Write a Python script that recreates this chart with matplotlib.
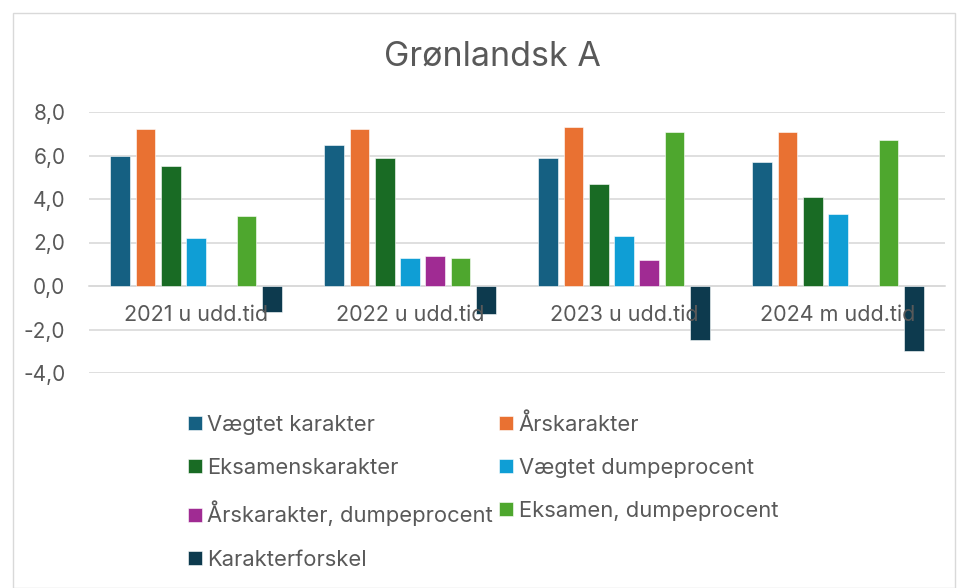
import numpy as np
import matplotlib.pyplot as plt
from matplotlib.patches import Rectangle

plt.rcParams['font.family'] = ['Inter', 'DejaVu Sans']

kategorier = ["2021 u udd.tid", "2022 u udd.tid", "2023 u udd.tid", "2024 m udd.tid"]
serier = ["Vægtet karakter", "Årskarakter", "Eksamenskarakter", "Vægtet dumpeprocent",
          "Årskarakter, dumpeprocent", "Eksamen, dumpeprocent", "Karakterforskel"]
vaegtet_karakter = [6.0, 6.5, 5.9, 5.7]
aarskarakter = [7.2, 7.2, 7.3, 7.1]
eksamenskarakter = [5.5, 5.9, 4.7, 4.1]
vaegtet_dump = [2.2, 1.3, 2.3, 3.3]
aars_dump = [np.nan, 1.4, 1.2, np.nan]
eksamen_dump = [3.2, 1.3, 7.1, 6.7]
karakterforskel = [-1.2, -1.3, -2.5, -3.0]

vaerdier = [vaegtet_karakter, aarskarakter, eksamenskarakter, vaegtet_dump,
            aars_dump, eksamen_dump, karakterforskel]
farver = ["#156082", "#E97132", "#196B24", "#0F9ED5", "#A02B93", "#4EA72E", "#0D3A4E"]

tekst = "#595959"
grid = "#D9D9D9"

fig = plt.figure(figsize=(9.61, 5.88), dpi=100)
fig.patches.append(Rectangle((13/961, 0), 942/961, 1-13/588, transform=fig.transFigure,
                             fill=False, edgecolor=grid, linewidth=1))
ax = fig.add_axes([89/961, 1-373/588, (945-89)/961, (373-112)/588])

x = np.arange(len(kategorier))
trin = 25.3/214
bredde = 19.7/214
for i, (navn, v, f) in enumerate(zip(serier, vaerdier, farver)):
    ax.bar(x + (i-3)*trin, v, bredde, color=f, label=navn, edgecolor="white", linewidth=0.4, zorder=3)

ax.set_xlim(-0.5, 3.5)
ax.set_ylim(-4, 8)
ax.set_yticks(np.arange(-4, 9, 2))
ax.set_yticklabels([f"{t:.1f}".replace(".", ",") for t in np.arange(-4, 9, 2)])
ax.yaxis.grid(True, color=grid, linewidth=1.2, zorder=0)
ax.set_axisbelow(True)
for s in ["left", "right", "top"]:
    ax.spines[s].set_visible(False)
ax.spines["bottom"].set_position(("data", 0))
ax.spines["bottom"].set_color(grid)
ax.spines["bottom"].set_linewidth(1.2)
ax.spines["bottom"].set_zorder(1)
ax.set_xticks(x)
ax.set_xticklabels(kategorier)
ax.tick_params(axis="x", length=0, pad=14, labelsize=15.5, labelcolor=tekst)
ax.tick_params(axis="y", length=0, pad=17, labelsize=15, labelcolor=tekst)
ax.xaxis.set_zorder(5)

fig.text(492/961, 1-57/588, "Grønlandsk A", ha="center", va="center", fontsize=24.5, color=tekst)

h, l = ax.get_legend_handles_labels()
orden = [0, 2, 4, 6, 1, 3, 5]
leg = fig.legend([h[i] for i in orden], [l[i] for i in orden],
                 loc="upper left", bbox_to_anchor=(188/961, 1-413/588), ncol=2, frameon=False,
                 fontsize=15.8, labelcolor=tekst, handlelength=0.62, handleheight=0.62,
                 handletextpad=0.25, columnspacing=0.3, labelspacing=1.05,
                 borderpad=0, borderaxespad=0)

fig.savefig("out.png", dpi=100)
